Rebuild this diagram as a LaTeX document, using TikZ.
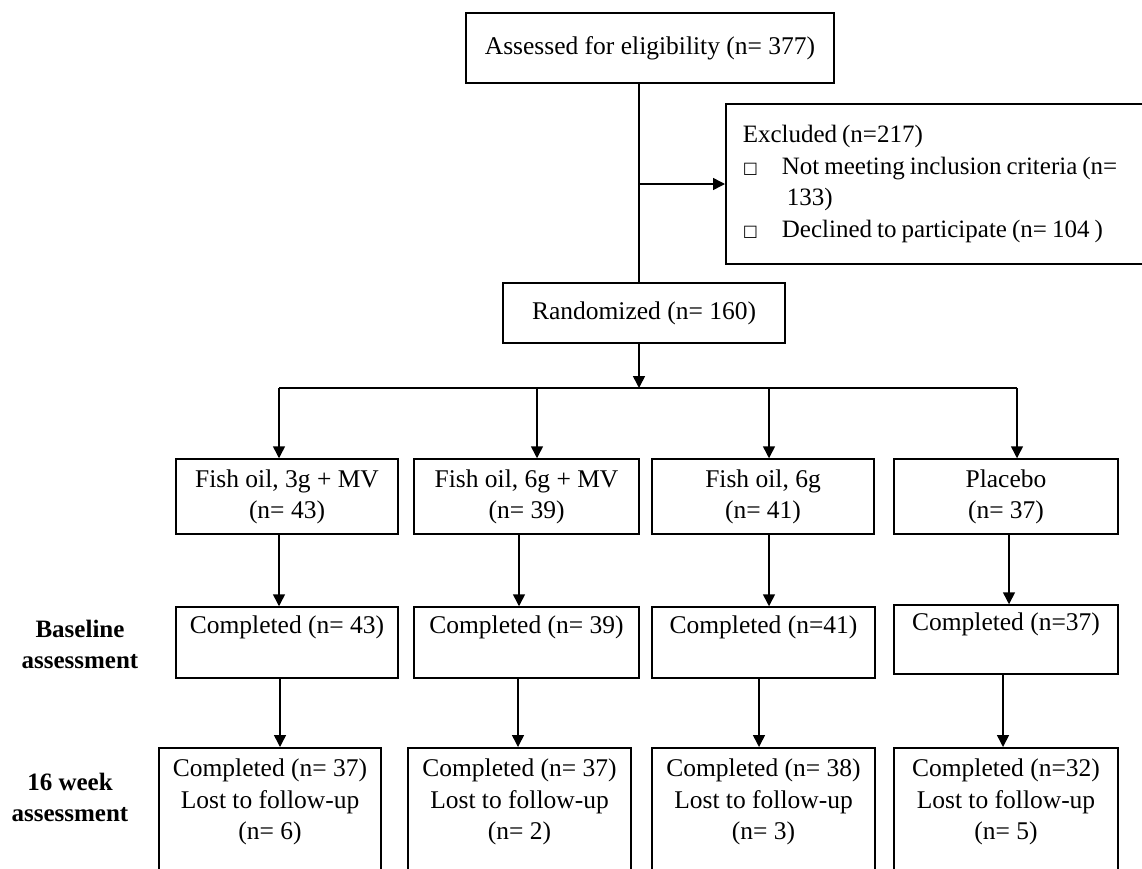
\documentclass[tikz,border=0pt]{standalone}
\usepackage{fontspec}
\setmainfont{Liberation Serif}
\newfontfamily\symfont{DejaVu Sans}
\usetikzlibrary{arrows.meta}
\newcommand\sqbox{\raisebox{1pt}{\symfont\fontsize{16}{16}\selectfont □}}
\newcommand\tightsp{\spaceskip=0.2em plus 0.05em\relax}
\begin{document}
\begin{tikzpicture}[x=1pt,y=-1pt,
  box/.style={draw, line width=1.5pt, inner sep=0pt, align=center,
    font=\fontsize{25.5}{31.5}\selectfont},
  lbl/.style={inner sep=0pt, align=center, font=\fontsize{25}{31}\selectfont\bfseries},
  conn/.style={line width=1.5pt},
  arr/.style={line width=1.5pt, -{Triangle[length=12pt,width=12pt]}}]
\useasboundingbox (0,0) rectangle (1142,868);
\clip (0,0) rectangle (1142,868);

% top
\node[box, minimum width=368pt, minimum height=70pt] (top) at (650,48) {\strut Assessed for eligibility (n= 377)};
\node[box, anchor=north west, minimum height=160pt, inner xsep=17pt, text width=401pt, align=left,
  font=\fontsize{25}{31.5}\selectfont] (excl) at (725,103) {\tightsp
\begin{tabular}{@{}l@{\hspace{24pt}}l@{}}
\multicolumn{2}{@{}l@{}}{Excluded (n=217)}\\
\sqbox & Not meeting inclusion criteria (n=\\
 & \hspace{5pt}133)\\
\sqbox & Declined to participate (n= 104 )
\end{tabular}};
\node[box, minimum width=282pt, minimum height=60pt] (rand) at (644,313) {\strut Randomized (n= 160)};

% groups
\node[box, minimum width=222pt, minimum height=75pt] (g1) at (287,496.5) {\strut Fish oil, 3g + MV\\\strut (n= 43)};
\node[box, minimum width=225pt, minimum height=75pt] (g2) at (526.5,496.5) {\strut Fish oil, 6g + MV\\\strut (n= 39)};
\node[box, minimum width=222pt, minimum height=75pt] (g3) at (763,496.5) {\strut Fish oil, 6g\\\strut (n= 41)};
\node[box, minimum width=224pt, minimum height=75pt] (g4) at (1006,496.5) {\strut Placebo\\\strut (n= 37)};

% baseline
\node[box, minimum width=222pt, minimum height=71pt] (b1) at (287,642.5) {\strut Completed (n= 43)\\\strut};
\node[box, minimum width=225pt, minimum height=71pt] (b2) at (526.5,642.5) {\strut Completed (n= 39)\\\strut};
\node[box, minimum width=223pt, minimum height=71pt] (b3) at (763.5,642.5) {\strut Completed (n=41)\\\strut};
\node[box, minimum width=224pt, minimum height=69pt] (b4) at (1006,639.5) {\strut Completed (n=37)\\\strut};

% 16 week
\node[box, anchor=north, minimum width=222pt, minimum height=140pt] (f1) at (270,747) {\strut Completed (n= 37)\\\strut Lost to follow-up\\\strut (n= 6)\\\strut};
\node[box, anchor=north, minimum width=223pt, minimum height=140pt] (f2) at (519.5,747) {\strut Completed (n= 37)\\\strut Lost to follow-up\\\strut (n= 2)\\\strut};
\node[box, anchor=north, minimum width=223pt, minimum height=140pt] (f3) at (763.5,747) {\strut Completed (n= 38)\\\strut Lost to follow-up\\\strut (n= 3)\\\strut};
\node[box, anchor=north, minimum width=224pt, minimum height=140pt] (f4) at (1006,747) {\strut Completed (n=32)\\\strut Lost to follow-up\\\strut (n= 5)\\\strut};

% side labels
\node[lbl] (lb1) at (80,646.5) {\strut Baseline\\\strut assessment};
\node[lbl] (lb2) at (70,799.5) {\strut 16 week\\\strut assessment};

% connectors
\coordinate (spine) at (639,184);
\coordinate (bus) at (639,388);
\coordinate (bus1) at (279,388);
\coordinate (bus2) at (537,388);
\coordinate (bus3) at (769,388);
\coordinate (bus4) at (1017,388);
\coordinate (c1) at (279,0);
\coordinate (c2) at (519,0);
\coordinate (c3) at (769,0);
\coordinate (c4) at (1009,0);
\coordinate (d1) at (280,0);
\coordinate (d2) at (518,0);
\coordinate (d3) at (759,0);
\coordinate (d4) at (1003,0);

\draw[conn] (top.south -| spine) -- (rand.north -| spine);
\draw[arr] (spine) -- (excl.west |- spine);
\draw[arr] (rand.south -| spine) -- (bus);
\draw[conn] (bus1) -- (bus4);
\draw[arr] (bus1) -- (bus1 |- g1.north);
\draw[arr] (bus2) -- (bus2 |- g2.north);
\draw[arr] (bus3) -- (bus3 |- g3.north);
\draw[arr] (bus4) -- (bus4 |- g4.north);
\draw[arr] (g1.south -| c1) -- (b1.north -| c1);
\draw[arr] (g2.south -| c2) -- (b2.north -| c2);
\draw[arr] (g3.south -| c3) -- (b3.north -| c3);
\draw[arr] (g4.south -| c4) -- (b4.north -| c4);
\draw[arr] (b1.south -| d1) -- (f1.north -| d1);
\draw[arr] (b2.south -| d2) -- (f2.north -| d2);
\draw[arr] (b3.south -| d3) -- (f3.north -| d3);
\draw[arr] (b4.south -| d4) -- (f4.north -| d4);
\end{tikzpicture}
\end{document}
